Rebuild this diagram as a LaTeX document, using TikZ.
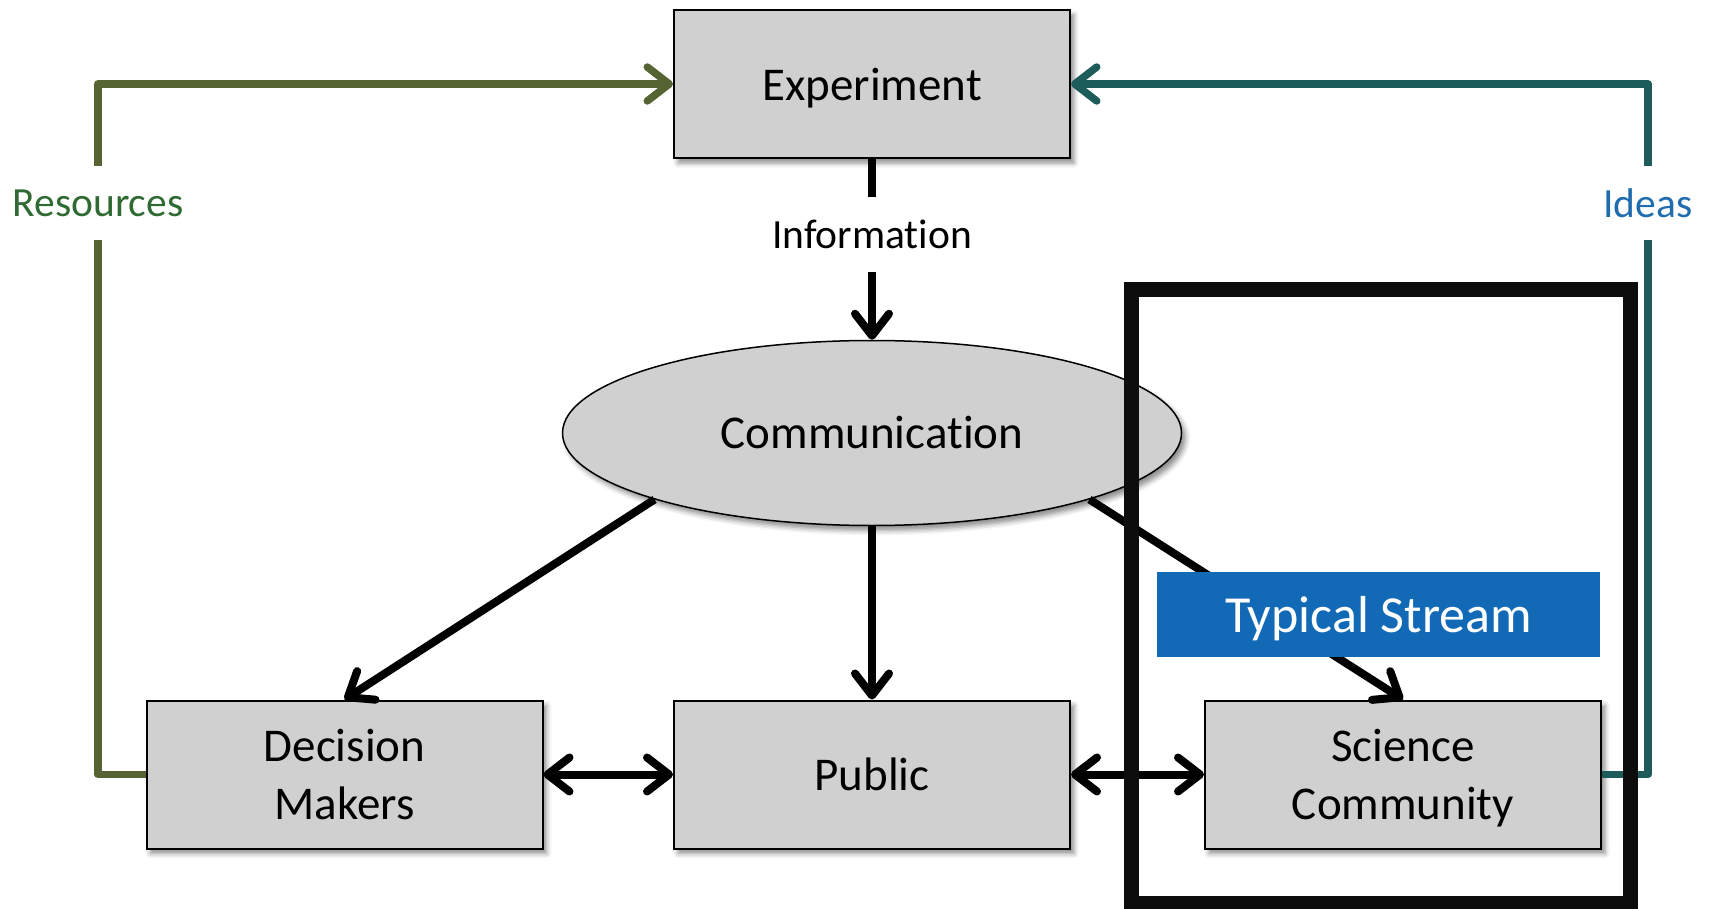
\documentclass[tikz,border=0pt]{standalone}
\usepackage{fontspec}
\setmainfont[Ligatures=NoCommon]{Carlito}
\usetikzlibrary{arrows.meta,shapes.geometric,shadows.blur}
\definecolor{boxgray}{HTML}{D0D0D0}
\definecolor{resline}{HTML}{566332}
\definecolor{restext}{HTML}{2F6A33}
\definecolor{idealine}{HTML}{1E5B5B}
\definecolor{ideatext}{HTML}{1F6DAE}
\definecolor{streamblue}{HTML}{126AB7}
\tikzset{
  barb/.tip={Straight Barb[length=22pt,width=34pt,round]},
  shad/.style={blur shadow={shadow xshift=4pt, shadow yshift=-5pt, shadow blur radius=5pt, shadow opacity=45}},
  box/.style={draw=black, line width=2pt, fill=boxgray, minimum width=396pt, minimum height=148pt, inner sep=0pt, align=center, text depth=0pt, font=\fontsize{47pt}{58pt}\selectfont, shad},
  oval/.style={ellipse, draw=black, line width=1.5pt, fill=boxgray, minimum width=619pt, minimum height=185pt, inner sep=0pt, font=\fontsize{47pt}{58pt}\selectfont, shad},
  lbl/.style={inner sep=0pt, minimum height=74pt, font=\fontsize{41.5pt}{50pt}\selectfont},
  arr/.style={line width=8pt, draw=black, -barb},
  dbl/.style={line width=8pt, draw=black, barb-barb},
  resl/.style={line width=7.5pt, draw=resline, line join=round},
  ideal/.style={line width=7.5pt, draw=idealine, line join=round},
}
\begin{document}
\begin{tikzpicture}[x=1pt,y=-1pt]
\useasboundingbox (0,0) rectangle (1711,909);
% nodes
\node[box] (exp) at (872,84) {Experiment};
\node[oval] (comm) at (872,433) {Communication};
\node[box] (dm) at (344.5,774.5) {Decision\\Makers};
\node[box] (pub) at (872,774.5) {Public};
\node[box] (sc) at (1403,774.5) {Science\\Community};
\node[lbl] (info) at (872,234.5) {Information};
\node[lbl, text=restext] (res) at (98,203) {Resources};
\node[lbl, text=ideatext] (ideas) at (1648,203) {Ideas};
% connectors
\draw[line width=8pt] (exp.south) -- (info.north);
\draw[arr] (info.south) -- (comm.north);
\draw[arr] (comm.197) -- (dm.north);
\draw[arr] (comm.south) -- (pub.north);
\draw[arr] (comm.343.7) -- (sc.north);
\draw[dbl] (dm.east) -- (pub.west);
\draw[dbl] (pub.east) -- (sc.west);
\draw[resl] (dm.west) -| (res.south);
\draw[resl, -barb] (res.north) |- (exp.west);
\draw[ideal] (sc.east) -| (ideas.south);
\draw[ideal, -barb] (ideas.north) |- (exp.east);
% frame and stream label
\node[draw=black!95, line width=15pt, minimum width=499pt, minimum height=613pt, inner sep=0pt] (frame) at (1380.5,596.5) {};
\node[fill=streamblue, text=white, minimum width=443pt, minimum height=85pt, inner sep=0pt, text depth=0pt, font=\fontsize{52pt}{60pt}\selectfont] (stream) at (1378.5,614.5) {Typical Stream};
\end{tikzpicture}
\end{document}
